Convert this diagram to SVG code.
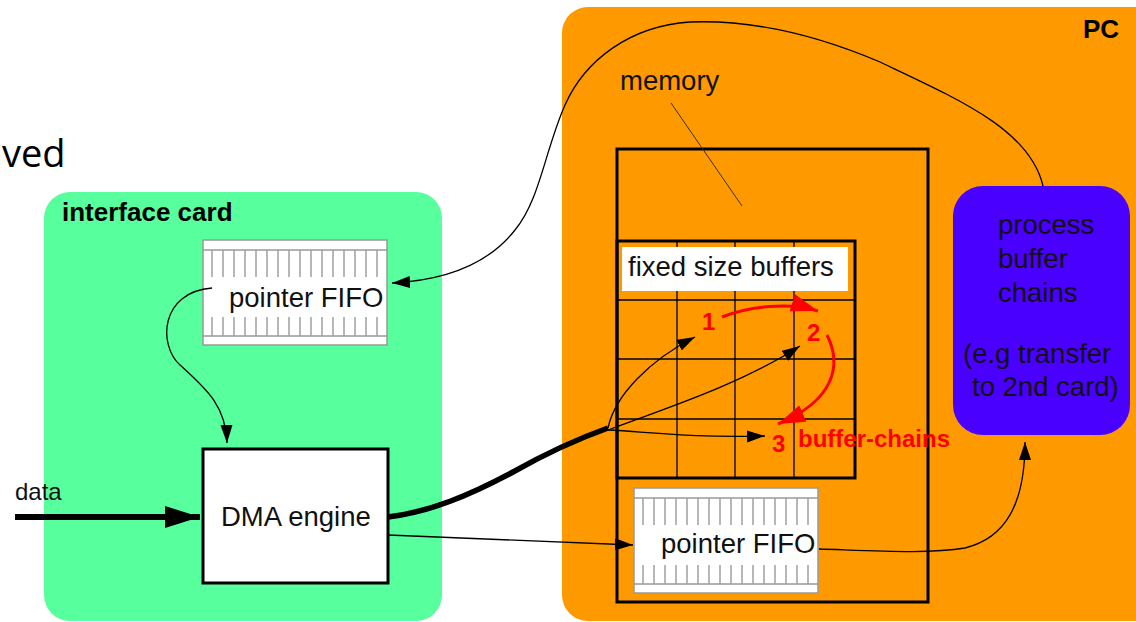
<svg xmlns="http://www.w3.org/2000/svg" width="1136" height="622" viewBox="0 0 1136 622">
<style>
text{font-family:"Liberation Sans",Arial,sans-serif;}
.t{font-size:27.5px;fill:#111;}
.hb{font-size:26px;font-weight:bold;fill:#000;}
.red{fill:#ff0000;font-weight:bold;font-size:24px;}
.conn{fill:none;stroke:#000;stroke-width:1.3;}
.rconn{fill:none;stroke:#ff0000;stroke-width:3;}
.tick{stroke:#a0a0a0;stroke-width:1.5;}
.box{fill:none;stroke:#000;stroke-width:3;}
.grid{stroke:#000;stroke-width:1.3;}
</style>
<defs>
<marker id="ah" markerUnits="userSpaceOnUse" markerWidth="20" markerHeight="14" refX="18" refY="6" orient="auto"><path d="M0,0 L18,6 L0,12 z" fill="#000"/></marker>
<marker id="ahr" markerUnits="userSpaceOnUse" markerWidth="30" markerHeight="20" refX="27" refY="9" orient="auto"><path d="M0,0 L27,9 L0,18 z" fill="#ff0000"/></marker>
<marker id="ahd" markerUnits="userSpaceOnUse" markerWidth="38" markerHeight="24" refX="35" refY="11" orient="auto"><path d="M0,0 L35,11 L0,22 z" fill="#000"/></marker>
<g id="fifo">
<rect x="0" y="0" width="184" height="105" fill="#fff" stroke="#999" stroke-width="1.5"/>
<line x1="0" y1="10" x2="184" y2="10" stroke="#999" stroke-width="1.5"/>
<line x1="0" y1="96" x2="184" y2="96" stroke="#999" stroke-width="1.5"/>
<path class="tick" d="M9,10V37M20,10V37M31,10V37M42,10V37M53,10V37M64,10V37M75,10V37M86,10V37M97,10V37M108,10V37M119,10V37M130,10V37M141,10V37M152,10V37M163,10V37M174,10V37M9,77V96M20,77V96M31,77V96M42,77V96M53,77V96M64,77V96M75,77V96M86,77V96M97,77V96M108,77V96M119,77V96M130,77V96M141,77V96M152,77V96M163,77V96M174,77V96"/>
</g>
</defs>

<text x="2" y="167" style="font-family:'Open Sans','Noto Sans',sans-serif;font-size:38px;fill:#000">ved</text>

<g id="interface-card">
<rect x="44" y="192" width="398" height="429" rx="26" fill="#58ff9d"/>
<text x="62" y="221" class="hb">interface card</text>
</g>

<g id="pc">
<rect x="562" y="7" width="600" height="614" rx="26" fill="#ff9900"/>
<text x="1119" y="38" class="hb" text-anchor="end">PC</text>
</g>

<g id="memory">
<rect x="617" y="149" width="311" height="453" class="box"/>
<text x="620" y="90" class="t">memory</text>
<line x1="671" y1="103" x2="742" y2="206" stroke="#333" stroke-width="1"/>
</g>

<g id="fixed-size-buffers">
<path class="grid" d="M677,241V478M735,241V478M794,241V478M617,300H855M617,359H855M617,419H855"/>
<rect x="617" y="241" width="238" height="237" class="box"/>
<rect x="622" y="247" width="226" height="44" fill="#fff"/>
<text x="628" y="276" class="t">fixed size buffers</text>
<text x="702" y="330" class="red">1</text>
<text x="807" y="341" class="red">2</text>
<text x="772" y="452" class="red">3</text>
<text x="798" y="447" class="red">buffer-chains</text>
</g>

<g id="pointer-fifo-card">
<use href="#fifo" x="203" y="240"/>
<text x="229" y="307" class="t">pointer FIFO</text>
</g>

<g id="pointer-fifo-pc">
<use href="#fifo" x="634" y="488"/>
<text x="661" y="553" class="t">pointer FIFO</text>
</g>

<g id="dma-engine">
<rect x="203" y="449" width="185" height="134" fill="#fff" stroke="#000" stroke-width="3"/>
<text x="221" y="526" class="t">DMA engine</text>
</g>

<g id="process-buffer-chains">
<rect x="953" y="186" width="177" height="249" rx="30" fill="#4a00ff"/>
<text class="t" fill="#000"><tspan x="998" y="234">process</tspan><tspan x="998" y="268">buffer</tspan><tspan x="998" y="302">chains</tspan><tspan x="963" y="363">(e.g transfer</tspan><tspan x="972" y="396">to 2nd card)</tspan></text>
</g>

<text x="15" y="500" class="t" style="font-size:24px">data</text>

<g id="connectors">
<line x1="15" y1="517" x2="200" y2="517" stroke="#000" stroke-width="6" marker-end="url(#ahd)"/>
<path d="M388,517 C430,512 470,495 513,472 C545,454 580,438 608,428" fill="none" stroke="#000" stroke-width="5.5"/>
<path class="conn" d="M1043,186 C1030,130 960,100 880,62 C800,28 740,20 690,22 C630,26 585,60 565,105 C545,150 540,200 515,230 C490,262 450,280 392,283" marker-end="url(#ah)"/>
<path class="conn" d="M212,288 C160,292 158,345 180,365 C205,388 226,405 227,443" marker-end="url(#ah)"/>
<path class="conn" d="M388,535 C480,538 560,542 633,545" marker-end="url(#ah)"/>
<path class="conn" d="M819,549 C880,551 930,554 965,548 C1005,538 1025,505 1025,442" marker-end="url(#ah)"/>
<path class="conn" d="M608,428 C615,395 650,360 695,337" marker-end="url(#ah)"/>
<path class="conn" d="M608,430 C660,410 740,385 800,346" marker-end="url(#ah)"/>
<path class="conn" d="M608,430 C650,432 690,438 765,436" marker-end="url(#ah)"/>
<path class="rconn" d="M722,317 C750,306 790,302 818,311" marker-end="url(#ahr)"/>
<path class="rconn" d="M827,335 C842,365 835,400 778,424" marker-end="url(#ahr)"/>
</g>
</svg>
